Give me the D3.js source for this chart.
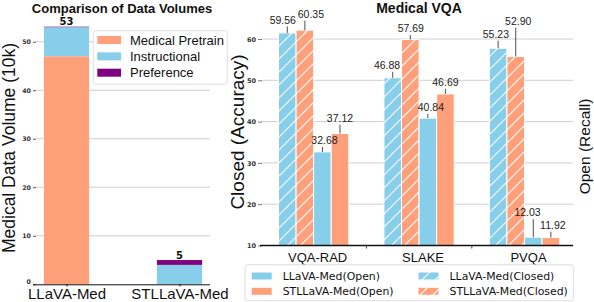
<!DOCTYPE html>
<html><head><meta charset="utf-8">
<script src="https://cdn.jsdelivr.net/npm/d3@7/dist/d3.min.js"></script>
<style>html,body{margin:0;padding:0;background:#fff;}svg{display:block;}</style>
</head><body>
<svg id="chart" width="594" height="302"></svg>
<script>
// ---------- data ----------
const volCategories = ["LLaVA-Med", "STLLaVA-Med"];
const medicalPretrain = [47, 0];
const instructional = [6, 4];
const preference = [0.1, 1];
const volTicks = [0, 10, 20, 30, 40, 50];

const vqaDatasets = ["VQA-RAD", "SLAKE", "PVQA"];
const llavaClosed = [59.56, 46.88, 55.23];
const stlClosed = [60.35, 57.69, 52.90];
const llavaOpen = [32.68, 40.84, 12.03];
const stlOpen = [37.12, 46.69, 11.92];
const vqaTicks = [10, 20, 30, 40, 50, 60];

// annotation label offsets (dx, dy from bar top) -- layout only
const labelOffsets = {
  llavaClosed: [[-4.5, -13], [-5.7, -12.4], [-2.3, -14]],
  stlClosed: [[6, -16], [0.5, -11], [2.5, -35.3]],
  llavaOpen: [[2, -11.3], [3, -11], [-5.7, -24.4]],
  stlOpen: [[0, -15.3], [0, -11.7], [2, -12.3]]
};

const BLUE = "#87CEEB", SALMON = "#FFA07A", PURPLE = "#800080";
const svg = d3.select("#chart");
const ARIAL = "'Liberation Sans', Arial, sans-serif";
const DEJAVU = "'DejaVu Sans', sans-serif";

const defs = svg.append("defs");
function hatch(id, color) {
  const p = defs.append("pattern").attr("id", id).attr("patternUnits", "userSpaceOnUse")
    .attr("width", 13).attr("height", 13);
  p.append("rect").attr("width", 13).attr("height", 13).attr("fill", color);
  p.append("path").attr("d", "M-1,14 L14,-1 M-4,4 L4,-4 M9,17 L17,9")
    .attr("stroke", "#fff").attr("stroke-width", 1.1);
}
hatch("hb", BLUE); hatch("hs", SALMON);

// ================= LEFT CHART =================
{
  const x = d3.scaleLinear().domain([-0.27, 1.27]).range([36, 210]);
  const y = d3.scaleLinear().domain([0, 55.65]).range([284.3, 14.3]);
  const bw = 0.4 * (x(1) - x(0));
  const g = svg.append("g");

  g.selectAll(".grid").data(volTicks.filter(t => t > 0)).join("line")
    .attr("x1", x.range()[0]).attr("x2", x.range()[1])
    .attr("y1", d => y(d)).attr("y2", d => y(d))
    .attr("stroke", "#cfcfcf").attr("stroke-width", 1);

  const yAxis = d3.axisLeft(y).tickValues(volTicks).tickSize(3).tickPadding(2);
  const ya = g.append("g").attr("transform", `translate(${x.range()[0]},0)`).call(yAxis);
  ya.select(".domain").remove();
  ya.selectAll("text").attr("font-family", DEJAVU).attr("font-size", 6.3).attr("font-weight", "bold").attr("fill", "#333");
  ya.selectAll(".tick").filter(d => d === 0).select("text").attr("dy", "-0.05em");
  ya.selectAll("line").attr("stroke", "#555");

  const series = [
    { name: "Medical Pretrain", vals: medicalPretrain, color: SALMON },
    { name: "Instructional", vals: instructional, color: BLUE },
    { name: "Preference", vals: preference, color: PURPLE }
  ];
  volCategories.forEach((c, i) => {
    let base = 0;
    series.forEach(s => {
      const v = s.vals[i];
      if (v > 0) {
        g.append("rect").attr("x", x(i) - bw / 2).attr("width", bw)
          .attr("y", y(base + v)).attr("height", y(base) - y(base + v))
          .attr("fill", s.color);
      }
      base += v;
    });
    g.append("text").attr("x", x(i)).attr("y", y(base) - 1.5).attr("text-anchor", "middle")
      .attr("font-family", DEJAVU).attr("font-weight", "bold").attr("font-size", 10)
      .attr("fill", "#111").text(Math.round(base));
  });

  const xAxis = d3.axisBottom(x).tickValues([0, 1]).tickFormat(i => volCategories[i]).tickSize(2).tickPadding(3);
  const xa = g.append("g").attr("transform", `translate(0,${y(0)})`).call(xAxis);
  xa.select(".domain").attr("d", `M33,0.5H210`).attr("stroke", "#111");
  xa.selectAll("text").attr("font-family", ARIAL).attr("font-size", 15).attr("fill", "#111").attr("dy", "0.66em");

  g.append("text").attr("x", 122).attr("y", 13).attr("text-anchor", "middle")
    .attr("font-family", ARIAL).attr("font-weight", "bold").attr("font-size", 13).attr("fill", "#111")
    .text("Comparison of Data Volumes");
  g.append("text").attr("transform", "translate(14.5,148) rotate(-90)").attr("text-anchor", "middle")
    .attr("font-family", ARIAL).attr("font-size", 17.5).attr("fill", "#111")
    .text("Medical Data Volume (10k)");

  const lg = g.append("g");
  lg.append("rect").attr("x", 93.3).attr("y", 30.7).attr("width", 134).attr("height", 53.5)
    .attr("rx", 2.5).attr("fill", "#fff").attr("fill-opacity", 0.85).attr("stroke", "#d5d5d5").attr("stroke-width", 0.8);
  series.forEach((s, k) => {
    const cy = 40 + k * 16.35;
    lg.append("rect").attr("x", 97.3).attr("y", cy - 4).attr("width", 23.7).attr("height", 8).attr("fill", s.color);
    lg.append("text").attr("x", 130).attr("y", cy).attr("dy", "0.36em")
      .attr("font-family", ARIAL).attr("font-size", 13).attr("fill", "#111").text(s.name);
  });
}

// ================= RIGHT CHART =================
{
  const x = d3.scaleLinear().domain([-0.49, 2.46]).range([262, 573]);
  const yOpen = d3.scaleLinear().domain([10, 64]).range([245.5, 22.5]);
  const yClosed = d3.scaleLinear().domain([-0.5, 62.5]).range([245.5, 22.5]);
  const w = x(1 / 6) - x(0);
  const g = svg.append("g");

  g.selectAll(".grid").data(vqaTicks.filter(t => t > 10)).join("line")
    .attr("x1", x.range()[0]).attr("x2", x.range()[1])
    .attr("y1", d => yOpen(d)).attr("y2", d => yOpen(d))
    .attr("stroke", "#cfcfcf").attr("stroke-width", 1);

  const yAxis = d3.axisLeft(yOpen).tickValues(vqaTicks).tickSize(4).tickPadding(2);
  const ya = g.append("g").attr("transform", `translate(${x.range()[0]},0)`).call(yAxis);
  ya.select(".domain").remove();
  ya.selectAll("text").attr("font-family", DEJAVU).attr("font-size", 6.5).attr("font-weight", "bold").attr("fill", "#333");
  ya.selectAll("line").attr("stroke", "#777");

  const series = [
    { key: "llavaClosed", vals: llavaClosed, fill: "url(#hb)", scale: yClosed },
    { key: "stlClosed", vals: stlClosed, fill: "url(#hs)", scale: yClosed },
    { key: "llavaOpen", vals: llavaOpen, fill: BLUE, scale: yOpen },
    { key: "stlOpen", vals: stlOpen, fill: SALMON, scale: yOpen }
  ];
  const ann = [];
  series.forEach((s, k) => {
    const off = (k - 1.5) * w;
    s.vals.forEach((v, i) => {
      const cx = x(i) + off;
      const top = s.scale(v);
      const bottom = s.scale === yOpen ? yOpen(10) : yClosed(-0.5);
      g.append("rect").attr("x", cx - w / 2).attr("width", w)
        .attr("y", top).attr("height", bottom - top)
        .attr("fill", s.fill).attr("stroke", "#fff").attr("stroke-width", 1);
      const [dx, dy] = labelOffsets[s.key][i];
      ann.push({ cx, top, tx: cx + dx, ty: top + dy, text: d3.format(".2f")(v) });
    });
  });

  const xa = g.append("g").attr("transform", `translate(0,${yOpen(10)})`);
  xa.append("line").attr("x1", 260).attr("x2", 573).attr("stroke", "#111").attr("stroke-width", 1.4);
  [0.5, 1.5].forEach(t => xa.append("line").attr("x1", x(t)).attr("x2", x(t)).attr("y1", 0).attr("y2", 3).attr("stroke", "#444"));
  vqaDatasets.forEach((d, i) => {
    xa.append("text").attr("x", x(i) + 4).attr("y", 16.5).attr("text-anchor", "middle")
      .attr("font-family", ARIAL).attr("font-size", 13).attr("fill", "#111").text(d);
  });

  ann.forEach(a => {
    if (a.top - (a.ty + 6) > 2) {
      g.append("line").attr("x1", a.cx).attr("x2", a.cx).attr("y1", a.top).attr("y2", a.ty + 6.5)
        .attr("stroke", "#222").attr("stroke-width", 0.8);
    }
    g.append("text").attr("x", a.tx).attr("y", a.ty).attr("dy", "0.36em").attr("text-anchor", "middle")
      .attr("font-family", ARIAL).attr("font-size", 10.5).attr("fill", "#222").text(a.text);
  });

  g.append("text").attr("x", 419).attr("y", 13).attr("text-anchor", "middle")
    .attr("font-family", ARIAL).attr("font-weight", "bold").attr("font-size", 14).attr("fill", "#111")
    .text("Medical VQA");
  g.append("text").attr("transform", "translate(244,132) rotate(-90)").attr("text-anchor", "middle")
    .attr("font-family", ARIAL).attr("font-size", 19).attr("fill", "#111")
    .text("Closed (Accuracy)");
  g.append("text").attr("transform", "translate(589.5,146.5) rotate(-90)").attr("text-anchor", "middle")
    .attr("font-family", ARIAL).attr("font-size", 15.5).attr("fill", "#111")
    .text("Open (Recall)");

  const lg = g.append("g");
  lg.append("rect").attr("x", 245).attr("y", 264.7).attr("width", 328.3).attr("height", 36)
    .attr("rx", 2.5).attr("fill", "#fff").attr("stroke", "#d5d5d5").attr("stroke-width", 0.8);
  const items = [
    { name: "LLaVA-Med(Open)", fill: BLUE, col: 0, row: 0 },
    { name: "STLLaVA-Med(Open)", fill: SALMON, col: 0, row: 1 },
    { name: "LLaVA-Med(Closed)", fill: "url(#hb)", col: 1, row: 0 },
    { name: "STLLaVA-Med(Closed)", fill: "url(#hs)", col: 1, row: 1 }
  ];
  items.forEach(it => {
    const sx = it.col === 0 ? 251.7 : 418.5;
    const cy = 276 + it.row * 15.3;
    lg.append("rect").attr("x", sx).attr("y", cy - 3.5).attr("width", 20).attr("height", 7).attr("fill", it.fill);
    lg.append("text").attr("x", sx + 31).attr("y", cy).attr("dy", "0.36em")
      .attr("font-family", DEJAVU).attr("font-size", 10.9).attr("fill", "#111").text(it.name);
  });
}
</script>
</body></html>
